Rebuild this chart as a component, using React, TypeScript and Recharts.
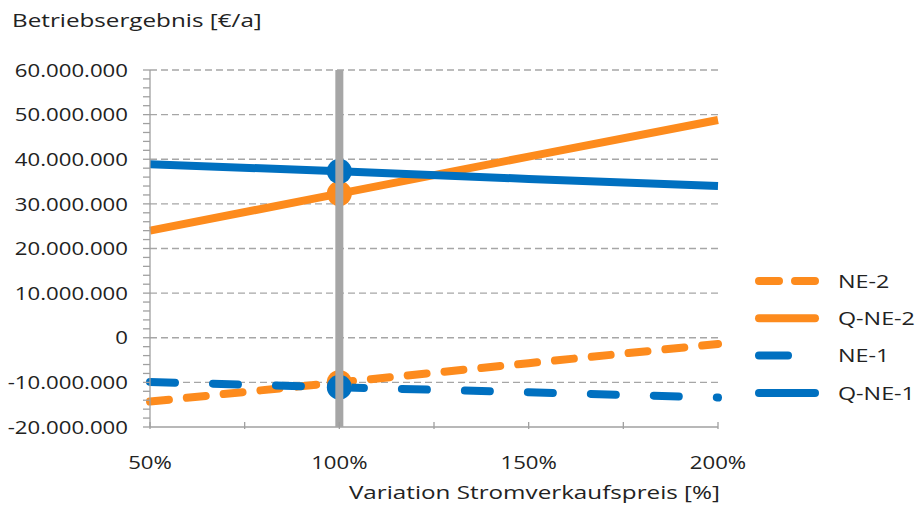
import { LineChart, Line, XAxis, YAxis, ReferenceLine, Legend, Label } from "recharts";

const FONT = "'Open Sans', sans-serif";
const FONT_SIZE = 18.5;
// the source picture is stretched horizontally, so text gets a matching scaleX
const SX = 1.2;
const SX_WORDS = 1.31;
const TEXT = "#222222";
const AXIS = "#a0a0a0";
const GRID = "#a6a6a6";
const ORANGE = "#fd8b1d";
const BLUE = "#0070c0";

// Variation Stromverkaufspreis [%]
const xValues = [50, 100, 150, 200];
// Betriebsergebnis [€/a]
const ne2 = [-14300000, -10000000, -5700000, -1400000];
const qne2 = [24000000, 32300000, 40600000, 48800000];
const ne1 = [-9900000, -11100000, -12200000, -13400000];
const qne1 = [38900000, 37300000, 35600000, 34000000];

const xTicks = [50, 75, 100, 125, 150, 175, 200];
const xLabelTicks = [50, 100, 150, 200];
const yMajorTicks = [-20000000, -10000000, 0, 10000000, 20000000, 30000000, 40000000, 50000000, 60000000];
const yMinorPerMajor = 5;
const baseX = 100;
const yDomain = [-20000000, 60000000];

const series = [
  { key: "ne2", name: "NE-2", color: ORANGE, dash: "19 18", legendDash: "20 16" },
  { key: "qne2", name: "Q-NE-2", color: ORANGE, dash: undefined, legendDash: undefined },
  { key: "ne1", name: "NE-1", color: BLUE, dash: "25 38", legendDash: "29 40" },
  { key: "qne1", name: "Q-NE-1", color: BLUE, dash: undefined, legendDash: undefined },
];

const rows = xValues.map((x, i) => ({ x, ne2: ne2[i], qne2: qne2[i], ne1: ne1[i], qne1: qne1[i] }));
// grey marker line at the 100 % base case, drawn as its own series so it sits on top
const baseRows = [
  { x: baseX, base: yDomain[1] },
  { x: baseX, base: yDomain[0] },
];

const yTicks: number[] = [];
for (let i = 0; i < yMajorTicks.length - 1; i++) {
  const step = (yMajorTicks[i + 1] - yMajorTicks[i]) / yMinorPerMajor;
  for (let j = 0; j < yMinorPerMajor; j++) yTicks.push(yMajorTicks[i] + j * step);
}
yTicks.push(yMajorTicks[yMajorTicks.length - 1]);

const fmtDe = (v: number) => {
  const s = Math.abs(Math.round(v)).toString().replace(/\B(?=(\d{3})+(?!\d))/g, ".");
  return (v < 0 ? "-" : "") + s;
};

function StretchText({ x, y, anchor = "start", sx = SX, children }: any) {
  return (
    <text
      transform={`translate(${x} ${y}) scale(${sx} 1)`}
      textAnchor={anchor}
      dy="0.36em"
      fill={TEXT}
      fontFamily={FONT}
      fontSize={FONT_SIZE}
    >
      {children}
    </text>
  );
}

function YTick(p: any) {
  const v = p.payload.value;
  if (!yMajorTicks.includes(v)) return <g />;
  return <StretchText x={p.x} y={p.y} anchor="end">{fmtDe(v)}</StretchText>;
}

function XTick(p: any) {
  const v = p.payload.value;
  return (
    <g>
      <line x1={p.x} x2={p.x} y1={p.y - 7} y2={p.y} stroke={AXIS} strokeWidth={1.3} />
      {xLabelTicks.includes(v) && <StretchText x={p.x} y={p.y + 33} anchor="middle">{`${v}%`}</StretchText>}
    </g>
  );
}

function makeDot(color: string) {
  return (p: any) => {
    if (p.payload.x !== baseX) return <g key={p.index} />;
    return <circle key={p.index} cx={p.cx} cy={p.cy} r={12.5} fill={color} />;
  };
}

function LegendBox() {
  return (
    <svg width={169} height={150}>
      {series.map((s, i) => {
        const y = 19 + i * 37.3;
        return (
          <g key={s.key}>
            <line x1={9} x2={65} y1={y} y2={y} stroke={s.color} strokeWidth={8} strokeLinecap="round" strokeDasharray={s.legendDash} />
            <StretchText x={88} y={y} sx={1.26}>{s.name}</StretchText>
          </g>
        );
      })}
    </svg>
  );
}

export default function App() {
  return (
    <div style={{ position: "absolute", left: 0, top: 0, background: "#fff" }}>
      <LineChart width={919} height={506} data={rows} margin={{ top: 70, right: 201, bottom: 0, left: 0 }}>
        <XAxis
          type="number"
          dataKey="x"
          domain={[50, 200]}
          ticks={xTicks}
          interval={0}
          height={79}
          tickSize={0}
          tickLine={false}
          tick={XTick}
          stroke={AXIS}
          strokeWidth={1.3}
        >
          <Label
            content={(p: any) => (
              <StretchText x={p.viewBox.x + p.viewBox.width + 2} y={p.viewBox.y + 65} anchor="end" sx={SX_WORDS}>
                Variation Stromverkaufspreis [%]
              </StretchText>
            )}
          />
        </XAxis>
        <YAxis
          type="number"
          domain={yDomain}
          ticks={yTicks}
          interval={0}
          width={150}
          tickSize={7}
          tickMargin={15}
          tick={YTick}
          stroke={AXIS}
          strokeWidth={1.3}
        >
          <Label
            content={(p: any) => (
              <StretchText x={p.viewBox.x + 12} y={p.viewBox.y - 50} sx={SX_WORDS}>
                Betriebsergebnis [€/a]
              </StretchText>
            )}
          />
        </YAxis>
        {yMajorTicks.slice(1).map((v) => (
          <ReferenceLine key={v} y={v} stroke={GRID} strokeWidth={1.3} strokeDasharray="7 4" />
        ))}
        {series.map((s) => (
          <Line
            key={s.key}
            dataKey={s.key}
            name={s.name}
            type="linear"
            stroke={s.color}
            strokeWidth={8}
            strokeLinecap={s.dash ? "round" : "butt"}
            strokeDasharray={s.dash}
            dot={makeDot(s.color)}
            activeDot={false}
            isAnimationActive={false}
          />
        ))}
        <Line
          data={baseRows}
          dataKey="base"
          type="linear"
          stroke={GRID}
          strokeWidth={8}
          dot={false}
          activeDot={false}
          legendType="none"
          zIndex={1500}
          isAnimationActive={false}
        />
        <Legend
          layout="vertical"
          align="center"
          verticalAlign="middle"
          content={() => <LegendBox />}
          wrapperStyle={{ left: 750, top: 262, width: 169, height: 150 }}
        />
      </LineChart>
    </div>
  );
}
